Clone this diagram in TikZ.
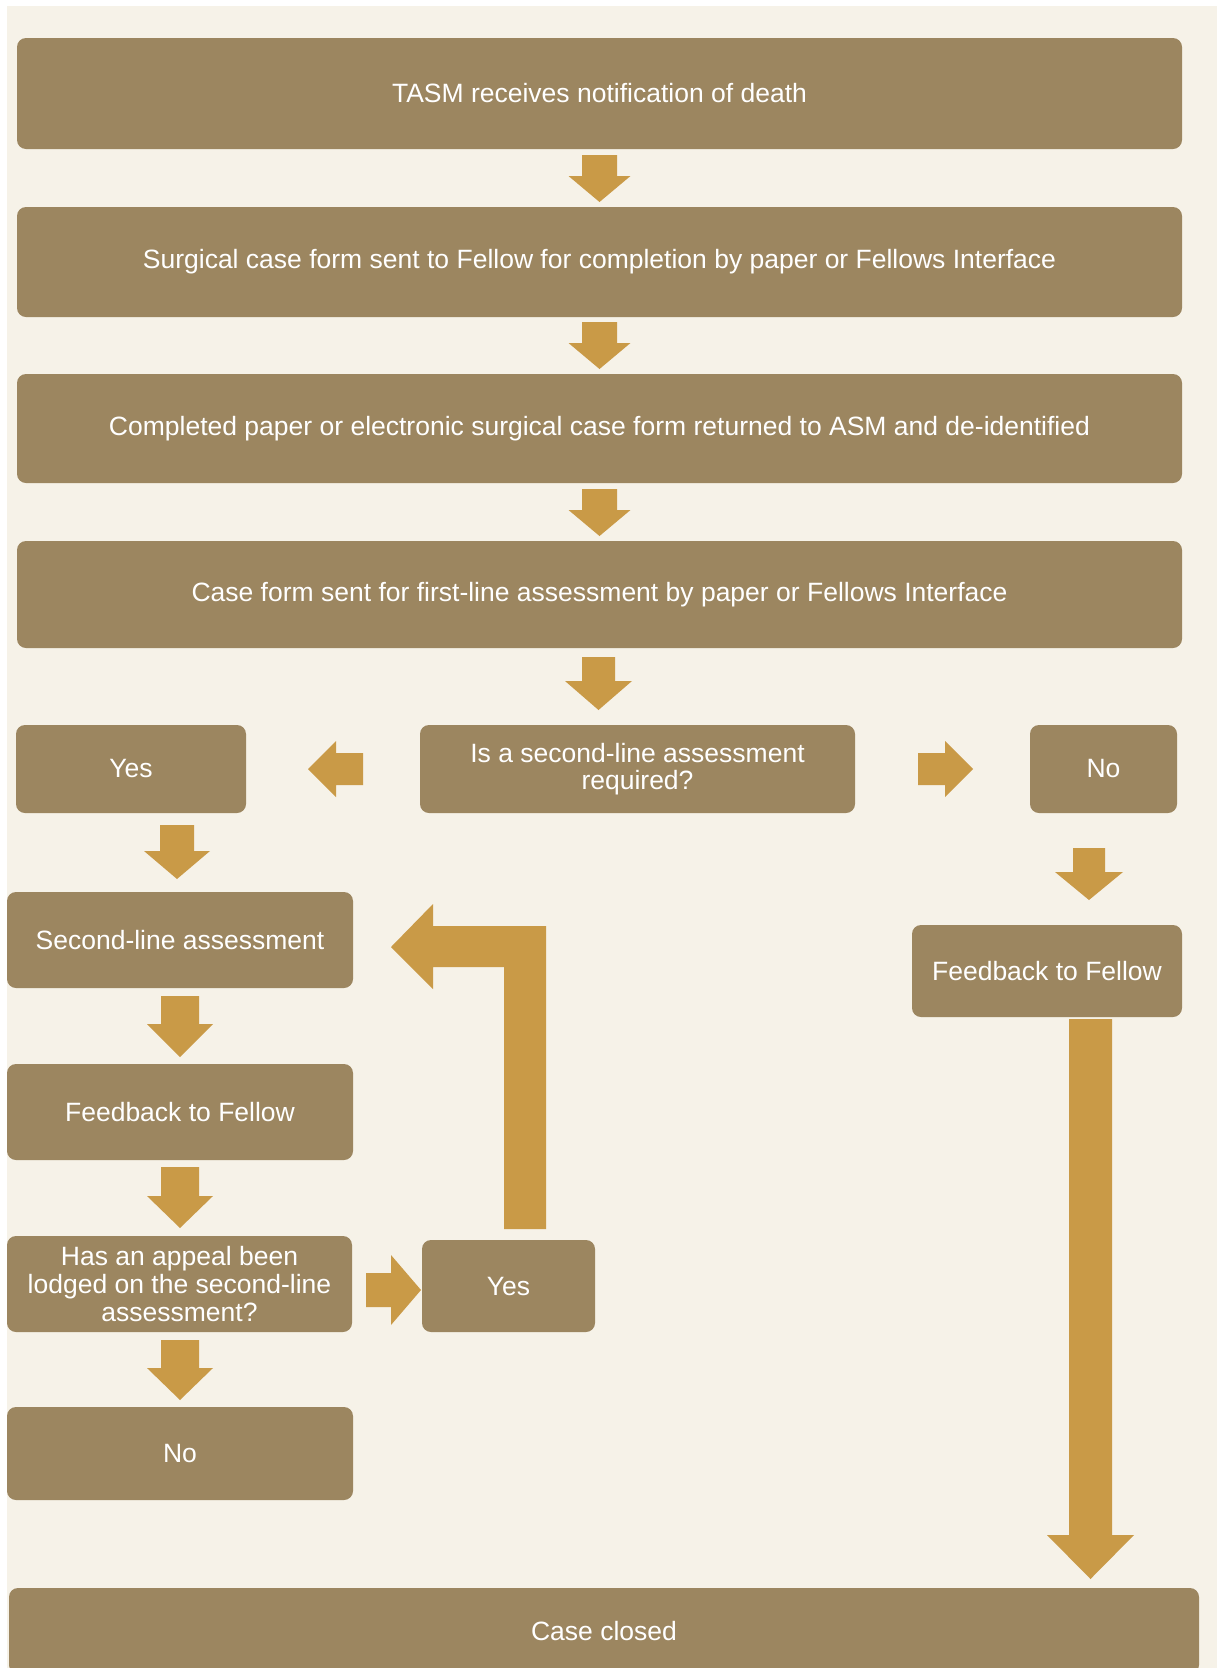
\documentclass[tikz,border=0pt]{standalone}
\usepackage{fontspec}
\setmainfont{Liberation Sans}
\definecolor{bgc}{HTML}{F6F2E8}
\definecolor{boxc}{HTML}{9C8660}
\definecolor{arrc}{HTML}{C99A47}
\newcommand\blkdown[6]{% cx, top, base, tip, shaft half, head half
  \fill[blk] (#1-#5,#2) -- (#1+#5,#2) -- (#1+#5,#3) -- (#1+#6,#3) -- (#1,#4) -- (#1-#6,#3) -- (#1-#5,#3) -- cycle;}
\newcommand\blkhor[6]{% cy, start, base, tip, shaft half, head half
  \fill[blk] (#2,#1-#5) -- (#3,#1-#5) -- (#3,#1-#6) -- (#4,#1) -- (#3,#1+#6) -- (#3,#1+#5) -- (#2,#1+#5) -- cycle;}
\begin{document}
\begin{tikzpicture}[x=1pt,y=-1pt,
  box/.style={fill=boxc, rounded corners=9pt, inner sep=0pt, text=white, align=center,
    font=\fontsize{26.5}{27.7}\selectfont},
  blk/.style={fill=arrc}]
\useasboundingbox (0,0) rectangle (1217,1668);
\fill[white] (0,0) rectangle (1217,1668);
\fill[bgc] (7,6) rectangle (1217,1668);

% boxes
\node[box, minimum width=1165pt, minimum height=111pt] (b1) at (599.5,93.5) {TASM receives notification of death};
\node[box, minimum width=1165pt, minimum height=110pt] (b2) at (599.5,262) {Surgical case form sent to Fellow for completion by paper or Fellows Interface};
\node[box, minimum width=1165pt, minimum height=109pt] (b3) at (599.5,428.5) {Completed paper or electronic surgical case form returned to ASM and de-identified};
\node[box, minimum width=1165pt, minimum height=107pt] (b4) at (599.5,594.5) {Case form sent for first-line assessment by paper or Fellows Interface};
\node[box, minimum width=230pt, minimum height=88pt] (yes1) at (131,769) {Yes};
\node[box, minimum width=435pt, minimum height=88pt] (dec) at (637.5,769) {Is a second-line assessment\\required?};
\node[box, minimum width=147pt, minimum height=88pt] (no1) at (1103.5,769) {No};
\node[box, minimum width=346pt, minimum height=96pt] (sl) at (180,940) {Second-line assessment};
\node[box, minimum width=346pt, minimum height=96pt] (fb1) at (180,1112) {Feedback to Fellow};
\node[box, minimum width=345pt, minimum height=96pt] (ap) at (179.5,1284) {Has an appeal been\\lodged on the second-line\\assessment?};
\node[box, minimum width=173pt, minimum height=92pt] (yes2) at (508.5,1286) {Yes};
\node[box, minimum width=346pt, minimum height=93pt] (no2) at (180,1453.5) {No};
\node[box, minimum width=270pt, minimum height=92pt] (fb2) at (1047,971) {Feedback to Fellow};
\node[box, minimum width=1190pt, minimum height=86pt] (cc) at (604,1631) {Case closed};

% block arrows
\blkdown{599.5}{155}{176}{202}{17.5}{31}
\blkdown{599.5}{322}{343}{369}{17.5}{31}
\blkdown{599.5}{489}{510}{536}{17.5}{31}
\blkdown{598.5}{657}{681}{710}{16.5}{33.5}
\blkdown{177}{825}{851}{879}{17}{33}
\blkdown{180}{996}{1024}{1057}{19}{33}
\blkdown{180}{1167}{1196}{1228}{19}{33}
\blkdown{180}{1340}{1368}{1400}{19}{33}
\blkdown{1089}{848}{872}{900}{16}{34}
\blkdown{1090.5}{1019}{1535}{1579}{21.5}{43.5}
\blkhor{769}{363}{336}{308}{16}{28}
\blkhor{769}{918}{945}{973}{16}{28}
\blkhor{1290}{366}{391}{421}{17}{35}
% bent arrow (appeal Yes back to second-line assessment)
\fill[blk] (546,1229) -- (546,926) -- (433,926) -- (433,904) -- (391,947) -- (433,989) -- (433,967) -- (504,967) -- (504,1229) -- cycle;
\end{tikzpicture}
\end{document}
